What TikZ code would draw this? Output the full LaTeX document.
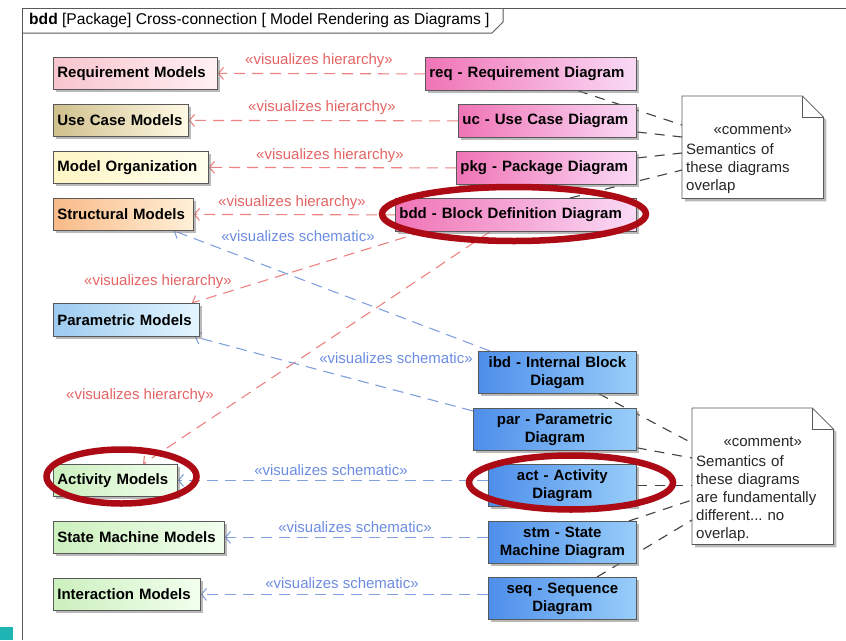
\documentclass[tikz,border=0pt]{standalone}
\usepackage{fontspec}
\setmainfont{Liberation Sans}
\usetikzlibrary{arrows.meta,shadows,calc}
\pgfdeclarelayer{bg}
\pgfsetlayers{bg,main}
\frenchspacing
\definecolor{hierc}{RGB}{236,130,130}
\definecolor{hiert}{RGB}{228,100,100}
\definecolor{schc}{RGB}{130,160,222}
\definecolor{scht}{RGB}{108,140,226}
\definecolor{ringc}{RGB}{172,10,20}
\definecolor{tealc}{RGB}{30,180,180}
\tikzset{
  mbox/.style={draw=black!65, line width=0.8pt, anchor=north west,
    font=\bfseries\fontsize{15}{18}\selectfont, inner xsep=4pt, inner ysep=2pt,
    drop shadow={shadow xshift=3pt, shadow yshift=-3pt, fill=black!50, opacity=.55}},
  lbox/.style={mbox, align=left},
  cbox/.style={mbox, align=center},
  fillrm/.style={left color={rgb,255:red,248;green,196;blue,206}, right color={rgb,255:red,255;green,240;blue,242}},
  fillucm/.style={left color={rgb,255:red,208;green,192;blue,140}, right color={rgb,255:red,255;green,250;blue,230}},
  fillmo/.style={left color={rgb,255:red,255;green,246;blue,196}, right color={rgb,255:red,255;green,255;blue,240}},
  fillsm/.style={left color={rgb,255:red,248;green,186;blue,136}, right color={rgb,255:red,255;green,240;blue,215}},
  fillpm/.style={left color={rgb,255:red,156;green,202;blue,240}, right color={rgb,255:red,228;green,246;blue,255}},
  fillgr/.style={left color={rgb,255:red,204;green,240;blue,190}, right color={rgb,255:red,242;green,255;blue,238}},
  fillpk/.style={left color={rgb,255:red,240;green,116;blue,182}, right color={rgb,255:red,250;green,218;blue,246}},
  fillbl/.style={left color={rgb,255:red,78;green,142;blue,234}, right color={rgb,255:red,152;green,206;blue,250}},
  hier/.style={draw=hierc, line width=1.1pt, dash pattern=on 11pt off 7pt, -{Straight Barb[length=5pt,width=12pt]}},
  sch/.style={draw=schc, line width=1.1pt, dash pattern=on 11pt off 7pt, -{Straight Barb[length=5pt,width=12pt]}},
  hlab/.style={text=hiert, font=\fontsize{15}{17}\selectfont, inner sep=0pt},
  slab/.style={text=scht, font=\fontsize{15}{17}\selectfont, inner sep=0pt},
  cline/.style={draw=black!75, line width=1.1pt, dash pattern=on 10pt off 8pt},
  notebox/.style={anchor=north west, inner sep=0pt},
  notetext/.style={anchor=north west, align=left, inner sep=0pt, text width=133pt,
    font=\fontsize{15}{18}\selectfont, text=black!85},
  notedraw/.style={draw=black!65, line width=0.8pt, fill=white,
    drop shadow={shadow xshift=3pt, shadow yshift=-3pt, fill=black!50, opacity=.55}},
  ring/.style={draw=ringc, line width=6.5pt},
  frameln/.style={draw=black!65, line width=1pt}
}
\begin{document}
\begin{tikzpicture}[x=1pt,y=-1pt]
\useasboundingbox (0,0) rectangle (846,640);
% frame
\draw[frameln] (22,640) -- (22,8) -- (846,8);
\draw[frameln] (22,33) -- (492,33) -- (503,22) -- (503,8);
\node[anchor=west, font=\fontsize{15.6}{17}\selectfont, inner sep=0pt] (title) at (29,20)
  {\textbf{bdd} [Package] Cross-connection [ Model Rendering as Diagrams ]};
\fill[tealc] (0,627) rectangle (13,640);

% left model boxes
\node[lbox, fillrm, minimum width=164pt, minimum height=32pt, text width=156pt] (rm) at (53,57) {Requirement Models};
\node[lbox, fillucm, minimum width=135pt, minimum height=32pt, text width=127pt] (ucm) at (53,104) {Use Case Models};
\node[lbox, fillmo, minimum width=155pt, minimum height=32pt, text width=147pt] (mo) at (53,151) {Model Organization};
\node[lbox, fillsm, minimum width=140pt, minimum height=32pt, text width=132pt] (sm) at (53,198) {Structural Models};
\node[lbox, fillpm, minimum width=146pt, minimum height=33pt, text width=138pt] (pm) at (53,303) {Parametric Models};
\node[lbox, fillgr, minimum width=124pt, minimum height=32pt, text width=116pt] (am) at (53,464) {Activity Models};
\node[lbox, fillgr, minimum width=171pt, minimum height=32pt, text width=163pt] (smm) at (53,521) {State Machine Models};
\node[lbox, fillgr, minimum width=147pt, minimum height=32pt, text width=139pt] (im) at (53,578) {Interaction Models};

% right diagram boxes
\node[lbox, fillpk, minimum width=211pt, minimum height=33pt, text width=203pt] (req) at (425,57) {req - Requirement Diagram};
\node[lbox, fillpk, minimum width=178pt, minimum height=33pt, text width=170pt] (uc) at (458,104) {uc - Use Case Diagram};
\node[lbox, fillpk, minimum width=180pt, minimum height=33pt, text width=172pt] (pkg) at (456,151) {pkg - Package Diagram};
\node[lbox, fillpk, minimum width=241pt, minimum height=33pt, text width=233pt] (bdd) at (395,198) {bdd - Block Definition Diagram};
\node[cbox, fillbl, minimum width=158pt, minimum height=42pt, text width=150pt] (ibd) at (478,351) {ibd - Internal Block\\Diagam};
\node[cbox, fillbl, minimum width=163pt, minimum height=42pt, text width=155pt] (par) at (473,408) {par - Parametric\\Diagram};
\node[cbox, fillbl, minimum width=148pt, minimum height=42pt, text width=140pt] (act) at (488,464) {act - Activity\\Diagram};
\node[cbox, fillbl, minimum width=148pt, minimum height=42pt, text width=140pt] (stm) at (488,521) {stm - State\\Machine Diagram};
\node[cbox, fillbl, minimum width=148pt, minimum height=42pt, text width=140pt] (seq) at (488,577) {seq - Sequence\\Diagram};

% comment notes
\node[notebox, minimum width=141pt, minimum height=102pt] (c1) at (682,96) {};
\node[notebox, minimum width=141pt, minimum height=136pt] (c2) at (692,408) {};
\begin{pgfonlayer}{bg}
\foreach \c in {c1,c2}{
  \draw[notedraw] (\c.north west) -- ($(\c.north east)+(-21,0)$) -- ($(\c.north east)+(0,21)$)
    -- (\c.south east) -- (\c.south west) -- cycle;
  \draw[draw=black!65, line width=0.8pt] ($(\c.north east)+(-21,0)$) |- ($(\c.north east)+(0,21)$);
}
% comment links
\draw[cline] ($(req.south west)+(153,0)$) -- ($(c1.north west)+(0,29)$);
\draw[cline] ($(uc.north east)+(0,28)$) -- ($(c1.north west)+(0,41)$);
\draw[cline] ($(pkg.north east)+(0,7)$) -- ($(c1.north west)+(0,57)$);
\draw[cline] ($(bdd.north west)+(175,0)$) -- ($(c1.north west)+(0,74)$);
\draw[cline] ($(ibd.south west)+(121,0)$) -- ($(c2.north west)+(0,35)$);
\draw[cline] ($(par.south east)+(0,-3)$) -- ($(c2.north west)+(0,50)$);
\draw[cline] (act.east) -- (c2.west |- act.east);
\draw[cline] ($(stm.north east)+(-8,0)$) -- ($(c2.north west)+(0,92)$);
\draw[cline] ($(seq.north west)+(109,0)$) -- ($(c2.north west)+(0,112)$);
% hierarchy
\draw[hier] (req.west) -- (rm.east);
\draw[hier] (uc.west) -- (ucm.east);
\draw[hier] (pkg.west) -- (mo.east);
\draw[hier] (bdd.west) -- (sm.east);
\draw[hier] ($(bdd.south west)+(28,0)$) -- ($(pm.north east)+(-8,0)$);
\draw[hier] ($(bdd.south west)+(95,0)$) -- ($(am.north west)+(90,0)$);
% schematic
\draw[sch] ($(ibd.north west)+(12,0)$) -- ($(sm.south east)+(-20,0)$);
\draw[sch] ($(par.north west)+(0,3)$) -- ($(pm.south east)+(-5,0)$);
\draw[sch] (act.west |- am.east) -- (am.east);
\draw[sch] (stm.west |- smm.east) -- (smm.east);
\draw[sch] (seq.west |- im.east) -- (im.east);
\end{pgfonlayer}

\node[notetext] (c1t) at ($(c1.north west)+(4,29)$)
  {\makebox[133pt][c]{«comment»}\\[2pt]Semantics of\\these diagrams\\overlap};
\node[notetext] (c2t) at ($(c2.north west)+(4,29)$)
  {\makebox[133pt][c]{«comment»}\\[2pt]Semantics of\\these diagrams\\are fundamentally\\different... no\\overlap.};

% labels
\node[hlab] (l1) at (319,61) {«visualizes hierarchy»};
\node[hlab] (l2) at (322,108) {«visualizes hierarchy»};
\node[hlab] (l3) at (330,156) {«visualizes hierarchy»};
\node[hlab] (l4) at (292,203) {«visualizes hierarchy»};
\node[hlab] (l5) at (158,282) {«visualizes hierarchy»};
\node[hlab] (l6) at (140,396) {«visualizes hierarchy»};
\node[slab] (s1) at (298,236) {«visualizes schematic»};
\node[slab] (s2) at (396,358) {«visualizes schematic»};
\node[slab] (s3) at (331,470) {«visualizes schematic»};
\node[slab] (s4) at (355,527) {«visualizes schematic»};
\node[slab] (s5) at (342,583) {«visualizes schematic»};

% red highlight rings
\draw[ring] (514,214) ellipse [x radius=132pt, y radius=27pt];
\draw[ring] (121.5,476.5) ellipse [x radius=75pt, y radius=27pt];
\draw[ring] (571,482.5) ellipse [x radius=102pt, y radius=27pt];
\end{tikzpicture}
\end{document}
